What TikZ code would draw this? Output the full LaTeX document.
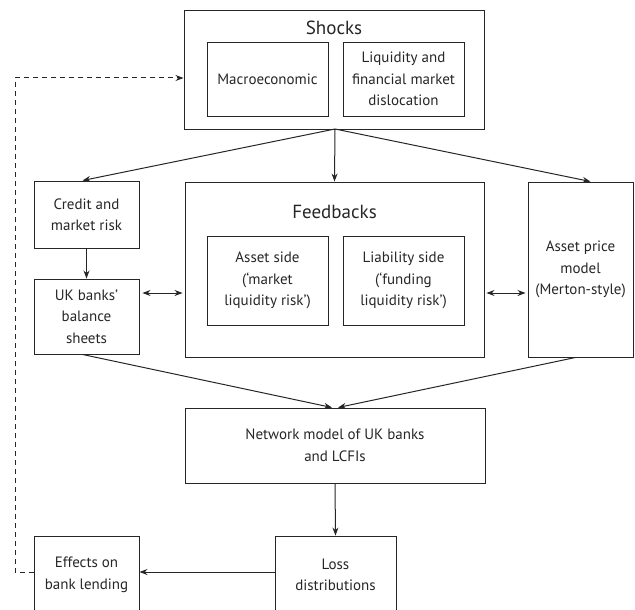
\documentclass[tikz,border=0pt]{standalone}
\usepackage{fontspec}
\setmainfont{PT Sans}
\usetikzlibrary{arrows.meta,calc}
\definecolor{ink}{HTML}{262626}
\begin{document}
\begin{tikzpicture}[x=1pt,y=-1pt,
  every node/.style={text=ink,font=\fontsize{15}{21.5}\selectfont},
  box/.style={draw=ink,line width=0.95pt,rectangle,inner sep=0pt,align=center},
  title/.style={font=\fontsize{19}{22}\selectfont},
  link/.style={draw=ink,line width=1pt,-{Stealth[length=8pt,width=6pt]}},
  both/.style={draw=ink,line width=1pt,{Stealth[length=8pt,width=6pt]}-{Stealth[length=8pt,width=6pt]}},
  loop/.style={draw=ink,line width=1pt,dash pattern=on 5pt off 4pt,-{Stealth[length=8pt,width=6pt]}}]
\useasboundingbox (0,0) rectangle (635,610);

% shocks block
\node[box,minimum width=300,minimum height=119] (shocks) at (334,69.5) {};
\node[title] (shockst) at (334,28) {Shocks};
\node[box,minimum width=121,minimum height=74] (macro) at (267.5,79) {Macroeconomic};
\node[box,minimum width=121,minimum height=74] (liq) at (403.5,79) {Liquidity and\\financial market\\dislocation};

% left column
\node[box,minimum width=105,minimum height=67] (credit) at (86.5,214.5) {Credit and\\market risk};
\node[box,minimum width=105,minimum height=75] (ukb) at (86.5,316.5) {UK banks'\\balance\\sheets};

% feedbacks block
\node[box,minimum width=299,minimum height=175] (feed) at (334.5,269.5) {};
\node[title] (feedt) at (334.5,212) {Feedbacks};
\node[box,minimum width=121,minimum height=89] (assetside) at (267.5,280.5) {Asset side\\(`market\\liquidity risk')};
\node[box,minimum width=121,minimum height=89] (liab) at (403.5,280.5) {Liability side\\(`funding\\liquidity risk')};

% right column
\node[box,minimum width=105,minimum height=175] (price) at (580.5,269.5) {Asset price\\model\\(Merton-style)};

% lower part
\node[box,minimum width=300,minimum height=75] (net) at (335,445.5) {Network model of UK banks\\and LCFIs};
\node[box,minimum width=121,minimum height=78] (loss) at (335.5,575) {Loss\\distributions};
\node[box,minimum width=105,minimum height=78] (eff) at (86.5,575) {Effects on\\bank lending};

% connectors
\coordinate (sb) at (335,129);
\draw[link] (sb) -- ($(credit.north)+(-4,0)$);
\draw[link] (sb) -- (feed.north);
\draw[link] (sb) -- ($(price.north)+(10,0)$);
\draw[link] (credit) -- (ukb);
\draw[both] ($(ukb.east |- 0,293)+(3,0)$) -- ($(feed.west |- 0,293)+(-2,0)$);
\draw[both] ($(feed.east |- 0,293)+(2,0)$) -- ($(price.west |- 0,293)+(-2,0)$);
\draw[link] ($(ukb.south)+(-4,0)$) -- ($(net.north)+(-3,0)$);
\draw[link] ($(price.south)+(-5,0)$) -- ($(net.north)+(3,0)$);
\draw[link] (net.south) -- (loss.north);
\draw[link] (loss.west |- 0,572) -- (eff.east |- 0,572);

% feedback loop back to the shocks
\coordinate (fb1) at (15,572);
\coordinate (fb2) at (15,78);
\draw[loop] (eff.west |- fb1) -- (fb1) -- (fb2) -- (shocks.west |- fb2);
\end{tikzpicture}
\end{document}
